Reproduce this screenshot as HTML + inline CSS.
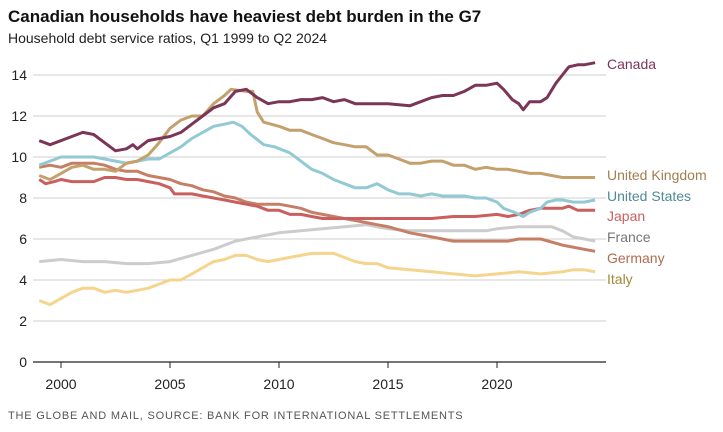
<!DOCTYPE html>
<html><head><meta charset="utf-8"><style>
body{margin:0;background:#fff;font-family:"Liberation Sans",sans-serif;}
#wrap{position:relative;width:723px;height:432px;overflow:hidden;}
.t{position:absolute;left:8px;top:7px;font-size:17px;font-weight:bold;color:#111;}
.s{position:absolute;left:8px;top:30px;font-size:14px;color:#222;}
.f{position:absolute;left:8px;top:410px;font-size:11px;letter-spacing:0.8px;color:#555;}
svg{position:absolute;left:0;top:0;}
</style></head><body>
<div id="wrap">
<div class="t">Canadian households have heaviest debt burden in the G7</div>
<div class="s">Household debt service ratios, Q1 1999 to Q2 2024</div>
<div class="f">THE GLOBE AND MAIL, SOURCE: BANK FOR INTERNATIONAL SETTLEMENTS</div>
<svg id="svg" width="723" height="432"></svg>
</div>
<script>
const yTicks=[0,2,4,6,8,10,12,14];
const xTicks=[2000,2005,2010,2015,2020];
const caX=[1999,1999.5,2000.5,2001,2001.5,2002,2002.5,2003,2003.3,2003.5,2004,2004.5,2005,2005.5,2006,2006.5,2007,2007.5,2008,2008.5,2009,2009.5,2010,2010.5,2011,2011.5,2012,2012.5,2013,2013.5,2014,2015,2016,2016.5,2017,2017.5,2018,2018.5,2019,2019.5,2020,2020.3,2020.7,2021,2021.2,2021.5,2022,2022.3,2022.7,2023,2023.3,2023.7,2024,2024.5];
const caY=[10.8,10.6,11.0,11.2,11.1,10.7,10.3,10.4,10.6,10.4,10.8,10.9,11.0,11.2,11.6,12.0,12.4,12.6,13.2,13.3,12.9,12.6,12.7,12.7,12.8,12.8,12.9,12.7,12.8,12.6,12.6,12.6,12.5,12.7,12.9,13.0,13.0,13.2,13.5,13.5,13.6,13.3,12.8,12.6,12.3,12.7,12.7,12.9,13.6,14.0,14.4,14.5,14.5,14.6];
const ukX=[1999,1999.5,2000,2000.5,2001,2001.5,2002,2002.5,2003,2003.5,2004,2004.5,2005,2005.5,2006,2006.5,2007,2007.5,2007.8,2008.5,2008.8,2009,2009.3,2010,2010.5,2011,2011.5,2012,2012.5,2013,2013.5,2014,2014.5,2015,2015.5,2016,2016.5,2017,2017.5,2018,2018.5,2019,2019.5,2020,2020.5,2021,2021.5,2022,2022.5,2023,2023.5,2024,2024.5];
const ukY=[9.1,8.9,9.2,9.5,9.6,9.4,9.4,9.3,9.7,9.8,10.1,10.7,11.4,11.8,12.0,12.0,12.6,13.0,13.3,13.2,13.2,12.2,11.7,11.5,11.3,11.3,11.1,10.9,10.7,10.6,10.5,10.5,10.1,10.1,9.9,9.7,9.7,9.8,9.8,9.6,9.6,9.4,9.5,9.4,9.4,9.3,9.2,9.2,9.1,9.0,9.0,9.0,9.0];
const usX=[1999,1999.5,2000,2001,2001.5,2002,2002.5,2003,2003.5,2004,2004.5,2005,2005.5,2006,2006.5,2007,2007.5,2007.9,2008.3,2008.7,2009.3,2009.8,2010.5,2011,2011.5,2012,2012.5,2013,2013.5,2014,2014.5,2015,2015.5,2016,2016.5,2017,2017.5,2018,2018.5,2019,2019.5,2020,2020.3,2020.8,2021.2,2021.5,2022,2022.3,2022.7,2023,2023.5,2024,2024.5];
const usY=[9.6,9.8,10.0,10.0,10.0,9.9,9.8,9.7,9.8,9.9,9.9,10.2,10.5,10.9,11.2,11.5,11.6,11.7,11.5,11.1,10.6,10.5,10.2,9.8,9.4,9.2,8.9,8.7,8.5,8.5,8.7,8.4,8.2,8.2,8.1,8.2,8.1,8.1,8.1,8.0,8.0,7.8,7.5,7.3,7.1,7.3,7.5,7.8,7.9,7.9,7.8,7.8,7.9];
const jpX=[1999,1999.3,1999.7,2000,2000.5,2001,2001.5,2002,2002.5,2003,2003.5,2004,2004.5,2005,2005.2,2006,2006.5,2007,2007.5,2008,2008.5,2009,2009.5,2010,2010.5,2011,2011.5,2012,2013,2014,2015,2016,2017,2018,2019,2020,2020.5,2021,2021.5,2022,2023,2023.3,2023.7,2024.5];
const jpY=[8.9,8.7,8.8,8.9,8.8,8.8,8.8,9.0,9.0,8.9,8.9,8.8,8.7,8.5,8.2,8.2,8.1,8.0,7.9,7.8,7.7,7.6,7.4,7.4,7.2,7.2,7.1,7.0,7.0,7.0,7.0,7.0,7.0,7.1,7.1,7.2,7.1,7.2,7.4,7.5,7.5,7.6,7.4,7.4];
const deX=[1999,1999.5,2000,2000.5,2001,2001.5,2002,2002.5,2003,2003.5,2004,2004.5,2005,2005.5,2006,2006.5,2007,2007.5,2008,2008.5,2009,2009.5,2010,2010.5,2011,2011.5,2012,2012.5,2013,2013.5,2014,2014.5,2015,2016,2017,2018,2019,2020,2020.5,2021,2022,2023,2024,2024.5];
const deY=[9.5,9.6,9.5,9.7,9.7,9.7,9.6,9.4,9.3,9.3,9.1,9.0,8.9,8.7,8.6,8.4,8.3,8.1,8.0,7.8,7.7,7.7,7.7,7.6,7.5,7.3,7.2,7.1,7.0,6.9,6.8,6.7,6.6,6.3,6.1,5.9,5.9,5.9,5.9,6.0,6.0,5.7,5.5,5.4];
const frX=[1999,2000,2001,2002,2003,2004,2005,2006,2007,2008,2009,2010,2011,2012,2013,2014,2015,2016,2019.5,2020,2021,2022.5,2023,2023.5,2024.5];
const frY=[4.9,5.0,4.9,4.9,4.8,4.8,4.9,5.2,5.5,5.9,6.1,6.3,6.4,6.5,6.6,6.7,6.5,6.4,6.4,6.5,6.6,6.6,6.4,6.1,5.9];
const itX=[1999,1999.5,2000,2000.5,2001,2001.5,2002,2002.5,2003,2003.5,2004,2004.5,2005,2005.5,2006,2006.5,2007,2007.5,2008,2008.5,2009,2009.5,2010,2010.5,2011,2011.5,2012,2012.5,2013,2013.5,2014,2014.5,2015,2016,2017,2018,2019,2020,2021,2022,2023,2023.5,2024,2024.5];
const itY=[3.0,2.8,3.1,3.4,3.6,3.6,3.4,3.5,3.4,3.5,3.6,3.8,4.0,4.0,4.3,4.6,4.9,5.0,5.2,5.2,5.0,4.9,5.0,5.1,5.2,5.3,5.3,5.3,5.1,4.9,4.8,4.8,4.6,4.5,4.4,4.3,4.2,4.3,4.4,4.3,4.4,4.5,4.5,4.4];

const NS="http://www.w3.org/2000/svg";
const svg=document.getElementById('svg');
const X=y=>61+(y-2000)*21.8;
const Y=v=>362-v*20.5;
function el(tag,attrs,parent){const e=document.createElementNS(NS,tag);for(const k in attrs)e.setAttribute(k,attrs[k]);(parent||svg).appendChild(e);return e;}
yTicks.forEach(v=>{
  if(v>0){const g=el('line',{x1:33,x2:606,y1:Y(v),y2:Y(v),stroke:'#cfcfcf','stroke-width':1});
  
  }
  const t=el('text',{x:27,y:Y(v)+5,'text-anchor':'end','font-size':14,fill:'#222','font-family':'Liberation Sans, sans-serif'});
  t.textContent=v;
  
  
});
const ax=el('line',{x1:33,x2:606,y1:362,y2:362,stroke:'#222','stroke-width':1.2});


xTicks.forEach(yr=>{
  el('line',{x1:X(yr),x2:X(yr),y1:362,y2:368,stroke:'#222','stroke-width':1});
  const t=el('text',{x:X(yr),y:389,'text-anchor':'middle','font-size':14,fill:'#222','font-family':'Liberation Sans, sans-serif'});
  t.textContent=yr;
  
  
});
const series=[
 ['france',frX,frY,'#cccccc','France','#777777',237],
 ['italy',itX,itY,'#f5d58e','Italy','#a08a3a',279],
 ['germany',deX,deY,'#c57f66','Germany','#b36a50',258],
 ['japan',jpX,jpY,'#c9605f','Japan','#c9605f',216],
 ['united-states',usX,usY,'#92c9d4','United States','#4e8a98',196],
 ['united-kingdom',ukX,ukY,'#c4a06c','United Kingdom','#a37e4e',175],
 ['canada',caX,caY,'#7b3557','Canada','#7b3557',64]
];
series.forEach(([id,xs,ys,c,lab,lc,ly])=>{
  const d=xs.map((x,i)=>(i?'L':'M')+X(x).toFixed(1)+','+Y(ys[i]).toFixed(1)).join('');
  const p=el('path',{d:d,fill:'none',stroke:c,'stroke-width':3,'stroke-linejoin':'round'});
  
  
  const t=el('text',{x:607,y:ly+5,'font-size':14,fill:lc,'font-family':'Liberation Sans, sans-serif'});
  t.textContent=lab;
  
  
});
</script>
</body></html>
